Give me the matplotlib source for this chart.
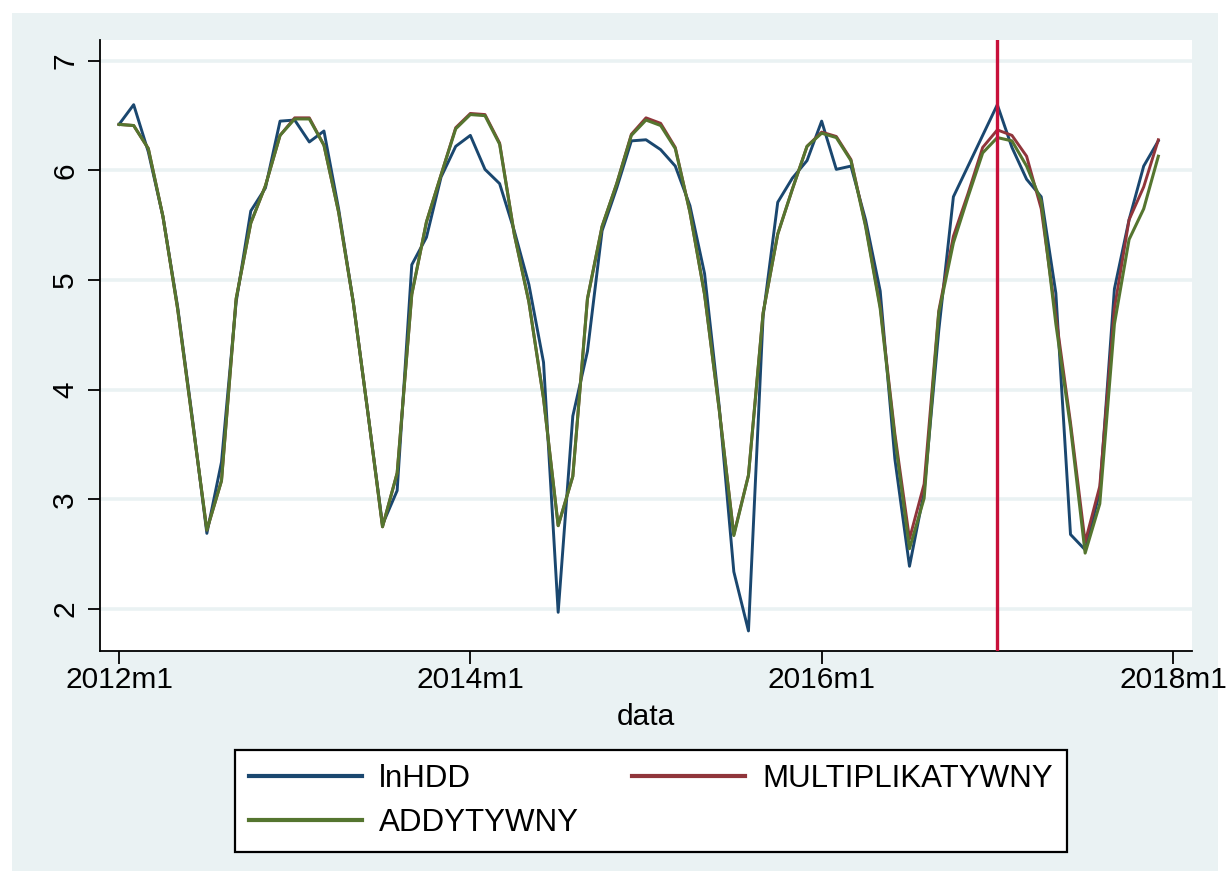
import matplotlib
matplotlib.use("Agg")
import matplotlib.pyplot as plt
from matplotlib.patches import Rectangle
import numpy as np

plt.rcParams['font.family'] = ['Liberation Sans', 'DejaVu Sans']

# Monthly series, 2012m1 .. 2017m12
lnhdd = [6.42, 6.60, 6.17, 5.58, 4.76, 3.75, 2.69, 3.34, 4.80, 5.63, 5.84, 6.45,
         6.46, 6.26, 6.36, 5.65, 4.80, 3.79, 2.77, 3.08, 5.14, 5.39, 5.94, 6.22,
         6.32, 6.01, 5.88, 5.45, 4.96, 4.25, 1.97, 3.76, 4.35, 5.45, 5.84, 6.27,
         6.28, 6.19, 6.04, 5.68, 5.06, 3.85, 2.34, 1.80, 4.67, 5.71, 5.93, 6.09,
         6.45, 6.01, 6.04, 5.55, 4.90, 3.37, 2.39, 3.07, 4.54, 5.76, 6.04, 6.32,
         6.60, 6.21, 5.92, 5.76, 4.88, 2.68, 2.54, 3.07, 4.92, 5.55, 6.04, 6.27]

multiplikatywny = [6.42, 6.41, 6.20, 5.58, 4.74, 3.73, 2.72, 3.17, 4.83, 5.52, 5.86, 6.32,
                   6.48, 6.48, 6.23, 5.62, 4.80, 3.79, 2.75, 3.24, 4.87, 5.53, 5.96, 6.39,
                   6.52, 6.51, 6.25, 5.42, 4.80, 3.92, 2.76, 3.21, 4.83, 5.49, 5.88, 6.33,
                   6.48, 6.43, 6.21, 5.62, 4.87, 3.82, 2.68, 3.22, 4.70, 5.42, 5.83, 6.22,
                   6.35, 6.31, 6.10, 5.50, 4.76, 3.60, 2.64, 3.14, 4.72, 5.40, 5.79, 6.21,
                   6.37, 6.32, 6.13, 5.65, 4.67, 3.70, 2.61, 3.12, 4.74, 5.55, 5.85, 6.28]

addytywny = [6.42, 6.41, 6.20, 5.58, 4.74, 3.73, 2.72, 3.17, 4.83, 5.52, 5.86, 6.32,
             6.47, 6.47, 6.23, 5.62, 4.80, 3.79, 2.75, 3.24, 4.87, 5.53, 5.96, 6.38,
             6.51, 6.50, 6.24, 5.42, 4.80, 3.92, 2.76, 3.21, 4.83, 5.49, 5.88, 6.32,
             6.46, 6.41, 6.20, 5.62, 4.87, 3.82, 2.67, 3.22, 4.70, 5.42, 5.83, 6.22,
             6.34, 6.30, 6.09, 5.49, 4.74, 3.56, 2.55, 3.01, 4.70, 5.34, 5.76, 6.16,
             6.30, 6.27, 6.04, 5.72, 4.60, 3.66, 2.51, 2.96, 4.60, 5.37, 5.65, 6.13]

month_index = np.arange(len(lnhdd))
tick_months = [0, 24, 48, 72]
tick_labels = ["2012m1", "2014m1", "2016m1", "2018m1"]
y_ticks = [2, 3, 4, 5, 6, 7]
forecast_start = 60  # 2017m1

W, H = 1227, 871
fig = plt.figure(figsize=(W / 100, H / 100), dpi=100, facecolor="white")

# graph region background
fig.patches.append(Rectangle((12 / W, 0), (1218 - 12) / W, (H - 13) / H,
                             transform=fig.transFigure, facecolor="#eaf2f3",
                             edgecolor="none", zorder=-10))

ax = fig.add_axes([100 / W, 1 - 651 / H, (1192 - 100) / W, (651 - 40) / H])
ax.set_facecolor("white")

ax.set_xlim(-1.30, 73.3)
ax.set_ylim(1.617, 7.19)

for yv in y_ticks:
    ax.axhline(yv, color="#eaf2f3", lw=2.6, zorder=1)

l1, = ax.plot(month_index, lnhdd, color="#1a476f", lw=2.1, label="lnHDD", zorder=3)
l2, = ax.plot(month_index, multiplikatywny, color="#90353b", lw=2.1,
              label="MULTIPLIKATYWNY", zorder=4)
l3, = ax.plot(month_index, addytywny, color="#55752f", lw=2.2, label="ADDYTYWNY", zorder=5)

ax.axvline(forecast_start, color="#c8103a", lw=2.4, zorder=6)

for side in ("top", "right"):
    ax.spines[side].set_visible(False)
for side in ("left", "bottom"):
    ax.spines[side].set_linewidth(1.3)
    ax.spines[side].set_color("black")

ax.set_xticks(tick_months)
ax.set_xticklabels(tick_labels)
ax.set_yticks(y_ticks)
ax.set_yticklabels([str(v) for v in y_ticks], rotation=90, va="center")
ax.tick_params(axis="both", direction="out", length=9, width=1.3, labelsize=21.5,
               colors="black")
ax.tick_params(axis="x", pad=2)
ax.tick_params(axis="y", pad=6)

ax.set_xlabel("data", fontsize=21.5, labelpad=6)

leg = fig.legend([l1, l3, l2], ["lnHDD", "ADDYTYWNY", "MULTIPLIKATYWNY"],
                 ncol=2, loc="center",
                 bbox_to_anchor=(651 / W, 1 - 801 / H),
                 fontsize=22.5, frameon=True, fancybox=False, edgecolor="black",
                 facecolor="white", framealpha=1.0,
                 handlelength=3.6, handletextpad=0.55, labelspacing=0.45,
                 columnspacing=1.7, borderpad=0.45, borderaxespad=0.0)
leg.get_frame().set_linewidth(1.6)
for line in leg.get_lines():
    line.set_linewidth(3)

fig.savefig("out.png", dpi=100, facecolor="white")
